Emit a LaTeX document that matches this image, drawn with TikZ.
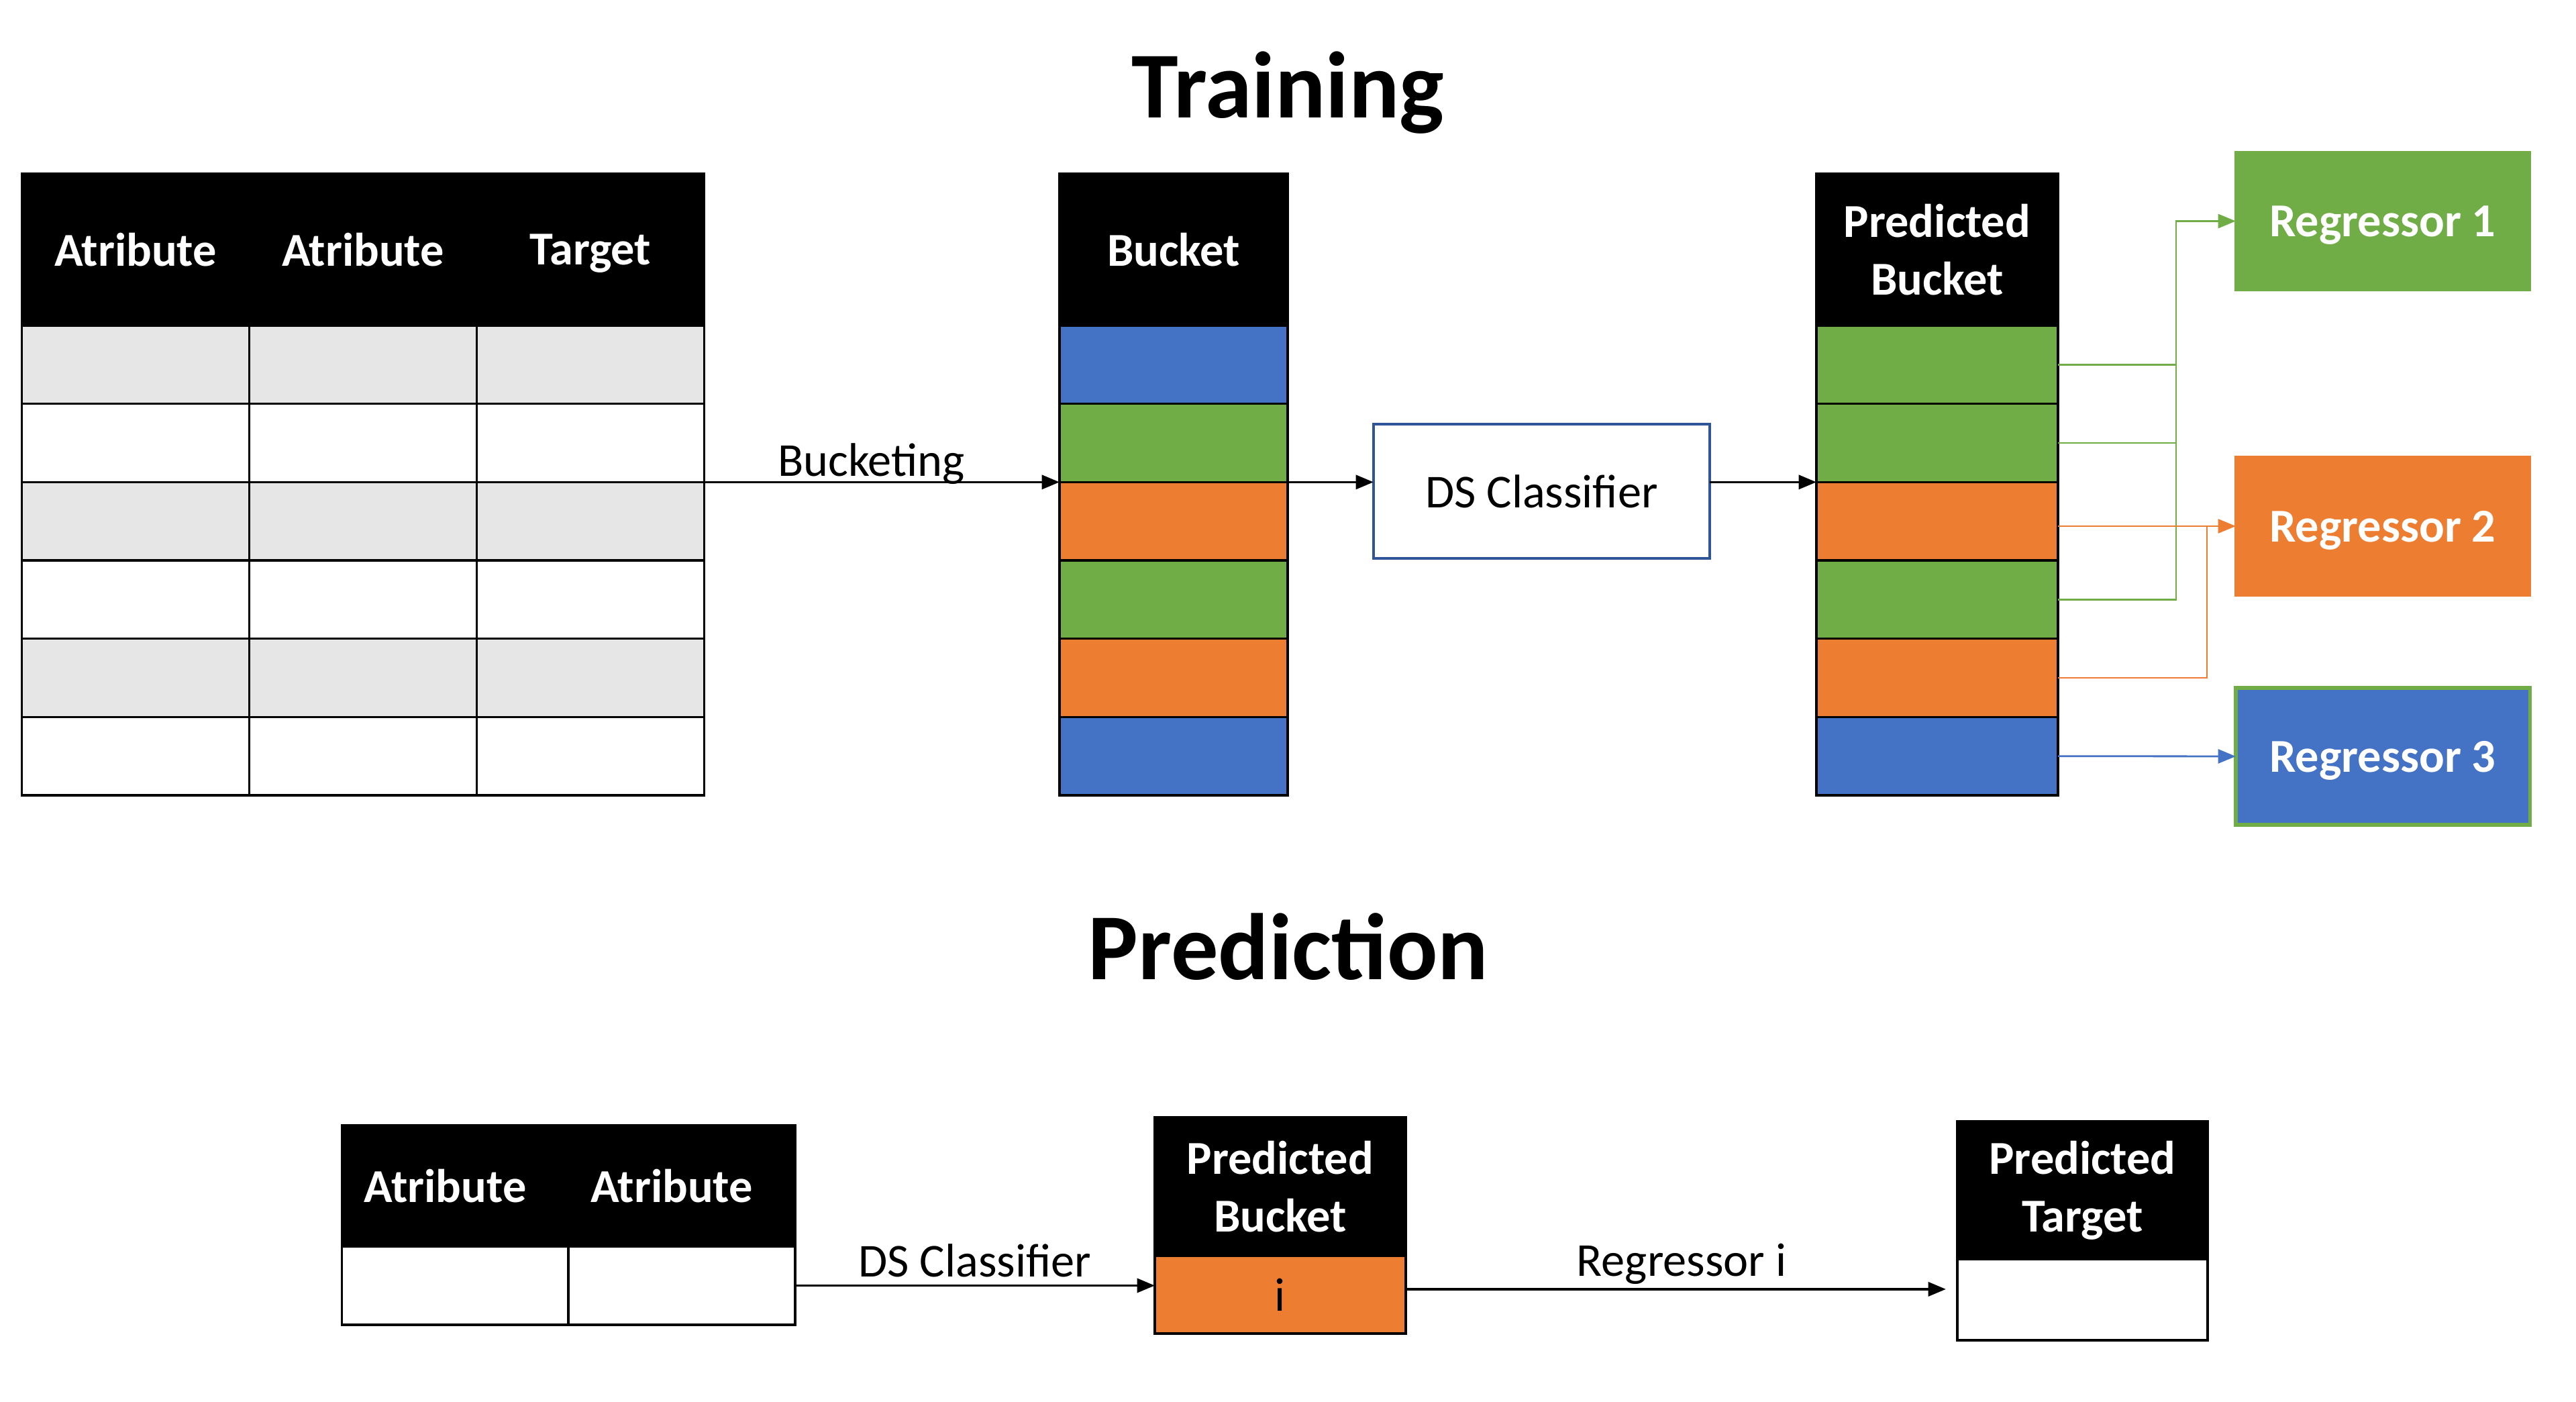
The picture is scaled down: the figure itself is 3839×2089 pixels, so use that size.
\documentclass[tikz,border=0pt]{standalone}
\usepackage{fontspec}
\setmainfont{Carlito}
\usetikzlibrary{arrows.meta}
\definecolor{cgreen}{HTML}{70AD47}
\definecolor{corange}{HTML}{ED7D31}
\definecolor{cblue}{HTML}{4472C4}
\definecolor{cgray}{HTML}{E7E6E6}
\definecolor{cdsb}{HTML}{2F5597}
\begin{document}
\begin{tikzpicture}[x=0.01cm,y=-0.01cm,
  every node/.style={inner sep=0pt, outer sep=0pt},
  body/.style={font=\fontsize{20}{24.4}\selectfont},
  hdr/.style={draw=black, fill=black, text=white, align=center, line width=1pt,
              font=\fontsize{20}{24.4}\selectfont\bfseries},
  cellbox/.style={draw=black, line width=1pt},
  regbox/.style={text=white, line width=1.2pt, font=\fontsize{20}{24.4}\selectfont\bfseries,
                 minimum width=4.38cm, text depth=0pt},
  title/.style={font=\fontsize{40}{48}\selectfont\bfseries},
  arr/.style={line width=1pt, -{Triangle[length=7.5pt,width=6pt]}},
  cline/.style={line width=0.8pt},
  tipped/.style={-{Triangle[length=7.5pt,width=6pt]}},
]
\useasboundingbox (0,0) rectangle (3839,2089);

% ---------- Titles ----------
\node[title, anchor=base] (ttrain) at (1919.5,176) {Training};
\node[title, anchor=base] (tpred) at (1920,1459) {Prediction};

% ---------- Training table ----------
\foreach \c/\x/\t in {1/202/Atribute, 2/541/Atribute, 3/880/Target} {
  \node[hdr, text depth=0pt, minimum width=3.39cm, minimum height=2.26cm] (th\c) at (\x,372) {\t};
  \foreach \r/\f in {1/cgray,2/white,3/cgray,4/white,5/cgray,6/white} {
    \pgfmathsetmacro\yy{485+116.667*(\r-0.5)}
    \node[cellbox, fill=\f, minimum width=3.39cm, minimum height=1.1667cm] (t\c\r) at (\x,\yy) {};
  }
}

% ---------- Bucket column ----------
\node[hdr, minimum width=3.4cm, minimum height=2.26cm] (bh) at (1749,372) {Bucket};
\foreach \r/\f in {1/cblue,2/cgreen,3/corange,4/cgreen,5/corange,6/cblue} {
  \pgfmathsetmacro\yy{485+116.667*(\r-0.5)}
  \node[cellbox, fill=\f, minimum width=3.4cm, minimum height=1.1667cm] (b\r) at (1749,\yy) {};
}

% ---------- DS Classifier ----------
\node[draw=cdsb, line width=1pt, fill=white, minimum width=5.01cm, minimum height=2.0cm, body]
  (ds) at (2297.5,732) {DS Classifier};

% ---------- Predicted bucket column ----------
\node[hdr, minimum width=3.6cm, minimum height=2.26cm] (ph) at (2887,372) {Predicted\\Bucket};
\foreach \r/\f in {1/cgreen,2/cgreen,3/corange,4/cgreen,5/corange,6/cblue} {
  \pgfmathsetmacro\yy{485+116.667*(\r-0.5)}
  \node[cellbox, fill=\f, minimum width=3.6cm, minimum height=1.1667cm] (p\r) at (2887,\yy) {};
}

% ---------- Regressors ----------
\node[regbox, fill=cgreen, draw=cgreen, minimum height=2.05cm] (r1) at (3551,329.5) {Regressor 1};
\node[regbox, fill=corange, draw=corange, minimum height=2.06cm] (r2) at (3551,784) {Regressor 2};
\node[regbox, fill=cblue, draw=cgreen, line width=1.5pt, minimum height=2.04cm] (r3) at (3551,1127) {Regressor 3};

\coordinate (gx) at (3243,0);
\coordinate (ox) at (3289,0);

% ---------- Training connectors ----------
\draw[arr] (t32.south east) -- node[body, pos=0.47, anchor=base, yshift=2.6pt] (lbk) {Bucketing} (b2.south west);
\draw[arr] (b2.south east) -- (ds.west |- b2.south east);
\draw[arr] (ds.east |- p2.south west) -- (p2.south west);

\draw[cline, cgreen] (p1.east) -- (gx |- p1.east);
\draw[cline, cgreen] (p2.east) -- (gx |- p2.east);
\draw[cline, cgreen, tipped] (p4.east) -| (gx |- r1.west) -- (r1.west);
\draw[cline, corange] (p5.east) -| (ox |- r2.west);
\draw[cline, corange, tipped] (p3.east |- r2.west) -- (r2.west);
\draw[cline, cblue, tipped] (p6.east) -- (r3.west);

% ---------- Prediction part ----------
\node[hdr, minimum width=3.375cm, minimum height=1.80cm] (qh1) at (678.5,1767) {\hspace*{-0.3cm}Atribute};
\node[hdr, minimum width=3.375cm, minimum height=1.80cm] (qh2) at (1016,1767) {\hspace*{-0.3cm}Atribute};
\node[cellbox, fill=white, minimum width=3.375cm, minimum height=1.17cm] (q1) at (678.5,1915.5) {};
\node[cellbox, fill=white, minimum width=3.375cm, minimum height=1.17cm] (q2) at (1016,1915.5) {};

\node[hdr, minimum width=3.74cm, minimum height=2.06cm] (pbh) at (1908,1768) {Predicted\\Bucket};
\node[cellbox, fill=corange, minimum width=3.74cm, minimum height=1.16cm, body] (pbc) at (1908,1929) {i};

\node[hdr, minimum width=3.73cm, minimum height=2.05cm] (tgh) at (3103.5,1773.5) {Predicted\\Target};
\node[cellbox, fill=white, minimum width=3.73cm, minimum height=1.21cm] (tgc) at (3103.5,1936.5) {};

\draw[arr] (q2.east) -- node[body, midway, anchor=base, yshift=3.7pt] (lds) {DS Classifier} (pbc.west |- q2.east);
\draw[arr, shorten >=0.17cm] ([yshift=2.3pt]pbc.east) -- node[body, midway, anchor=base, yshift=5.4pt] (lri) {Regressor i} ([yshift=2.3pt]pbc.east -| tgc.west);

\end{tikzpicture}
\end{document}
